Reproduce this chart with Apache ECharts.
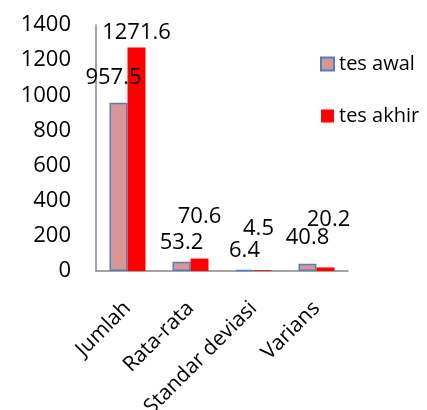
<!DOCTYPE html>
<html>
<head>
<meta charset="utf-8">
<script src="https://cdn.jsdelivr.net/npm/echarts@6/dist/echarts.min.js"></script>
<style>html,body{margin:0;padding:0;background:#fff}#c{width:427px;height:410px}</style>
</head>
<body>
<div id="c"></div>
<script>
const categories = ['Jumlah', 'Rata-rata', 'Standar deviasi', 'Varians'];
const tesAwal = [957.5, 53.2, 6.4, 40.8];
const tesAkhir = [1271.6, 70.6, 4.5, 20.2];
const yTicks = [0, 200, 400, 600, 800, 1000, 1200, 1400];

// label placement tweaks (style only)
const awalLabelOffsets = [[-5, -14], [0, -8], [0, -8], [0, -15]];
const akhirLabelOffsets = [[0, -4], [0, -31], [-4, -30], [3, -37]];

const FONT = '"Open Sans", sans-serif';
const chart = echarts.init(document.getElementById('c'));
function mk(vals, offs) {
  return vals.map((v, i) => ({ value: v, label: { offset: offs[i] } }));
}
chart.setOption({
  animation: false,
  textStyle: { fontFamily: FONT },
  grid: { left: 96, top: 25, right: 79, bottom: 139, containLabel: false, outerBoundsMode: 'none' },
  legend: {
    orient: 'vertical', left: 315, top: 49,
    itemWidth: 13, itemHeight: 13, itemGap: 32,
    textStyle: { fontSize: 20, color: '#000', fontFamily: FONT },
    data: [
      { name: 'tes awal', icon: 'rect' },
      { name: 'tes akhir', icon: 'rect' }
    ]
  },
  xAxis: {
    type: 'category', data: categories,
    axisLine: { lineStyle: { color: '#868686', width: 1.5 } },
    axisTick: { show: false },
    axisLabel: { rotate: 45, fontSize: 21, color: '#000', margin: 34, fontFamily: FONT, interval: 0 }
  },
  yAxis: {
    type: 'value', min: yTicks[0], max: yTicks[yTicks.length - 1], interval: 200,
    splitLine: { show: false },
    axisLine: { show: true, lineStyle: { color: '#868686', width: 1.5 } },
    axisTick: { show: false },
    axisLabel: { fontSize: 22, color: '#000', margin: 25, fontFamily: FONT, formatter: v => String(v) }
  },
  series: [
    {
      name: 'tes awal', type: 'bar', barWidth: 18, barGap: '0%',
      itemStyle: { color: '#d99694', borderColor: '#4f81bd', borderWidth: 1.5 },
      label: { show: true, position: 'top', distance: 0, fontSize: 22, color: '#000', fontFamily: FONT },
      data: mk(tesAwal, awalLabelOffsets)
    },
    {
      name: 'tes akhir', type: 'bar', barWidth: 18, barGap: '0%',
      itemStyle: { color: '#ff0000' },
      label: { show: true, position: 'top', distance: 0, fontSize: 22, color: '#000', fontFamily: FONT },
      data: mk(tesAkhir, akhirLabelOffsets)
    }
  ]
});
</script>
</body>
</html>
